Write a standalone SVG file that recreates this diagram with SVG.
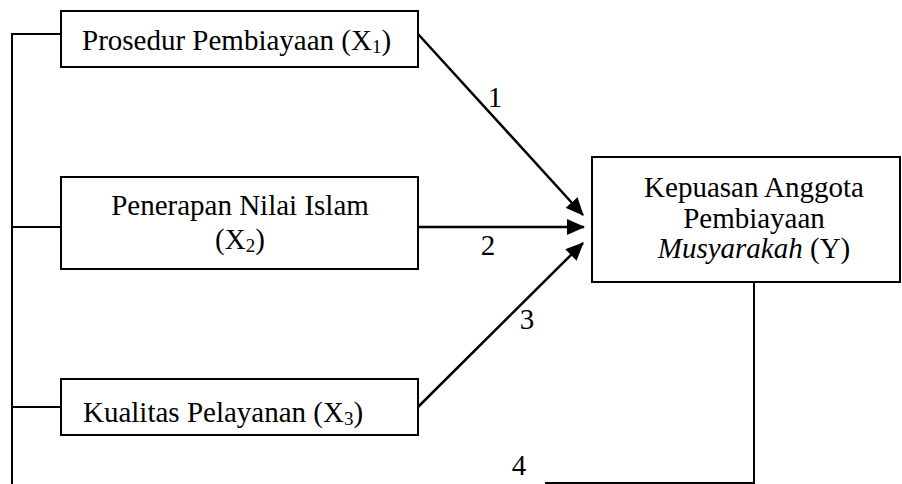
<svg xmlns="http://www.w3.org/2000/svg" width="902" height="484" viewBox="0 0 902 484">
<style>
.box{fill:#fff;stroke:#000;stroke-width:2}
.t{font-family:"Liberation Serif","Times New Roman",serif;font-size:29px;fill:#000}
.c{fill:none;stroke:#000;stroke-width:2}
.a{fill:none;stroke:#000;stroke-width:2.5}
</style>
<defs>
<marker id="ah" markerUnits="userSpaceOnUse" markerWidth="18" markerHeight="16" refX="17" refY="8" orient="auto">
<path d="M0,0 L18,8 L0,16 Z" fill="#000"/>
</marker>
</defs>
<g id="connectors">
<path class="c" d="M61,34 H12 V484"/>
<path class="c" d="M61,227 H12"/>
<path class="c" d="M61,407 H12"/>
<path class="c" d="M754,282 V483 H545"/>
<line class="a" x1="418" y1="34" x2="583" y2="215" marker-end="url(#ah)"/>
<line class="a" x1="418" y1="227" x2="584" y2="227" marker-end="url(#ah)"/>
<line class="a" x1="418" y1="407" x2="583" y2="243" marker-end="url(#ah)"/>
<text class="t" x="495" y="107" text-anchor="middle">1</text>
<text class="t" x="488" y="255" text-anchor="middle">2</text>
<text class="t" x="527" y="329" text-anchor="middle">3</text>
<text class="t" x="519" y="475" text-anchor="middle">4</text>
</g>
<g id="x1">
<rect class="box" x="61" y="11" width="357" height="56"/>
<text class="t" x="82" y="50">Prosedur Pembiayaan (X<tspan font-size="19" dy="3">1</tspan><tspan dy="-3">)</tspan></text>
</g>
<g id="x2">
<rect class="box" x="61" y="177" width="357" height="92"/>
<text class="t" x="240" y="215" text-anchor="middle">Penerapan Nilai Islam</text>
<text class="t" x="240" y="249" text-anchor="middle">(X<tspan font-size="19" dy="3">2</tspan><tspan dy="-3">)</tspan></text>
</g>
<g id="x3">
<rect class="box" x="61" y="379" width="357" height="56"/>
<text class="t" x="83" y="422">Kualitas Pelayanan (X<tspan font-size="19" dy="3">3</tspan><tspan dy="-3">)</tspan></text>
</g>
<g id="y">
<rect class="box" x="592" y="157" width="308" height="125"/>
<text class="t" x="754" y="197" text-anchor="middle">Kepuasan Anggota</text>
<text class="t" x="754" y="228" text-anchor="middle">Pembiayaan</text>
<text class="t" x="754" y="258" text-anchor="middle"><tspan font-style="italic">Musyarakah</tspan> (Y)</text>
</g>
</svg>
